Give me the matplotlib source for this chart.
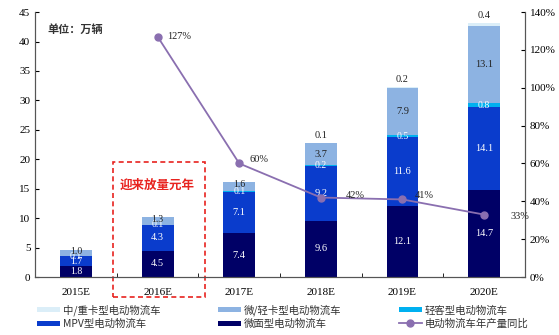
import numpy as np
import matplotlib.pyplot as plt
from matplotlib.patches import Rectangle

plt.rcParams['font.family'] = ['Liberation Serif', 'Noto Sans CJK SC']

years = ['2015E', '2016E', '2017E', '2018E', '2019E', '2020E']
micro_van = [1.8, 4.5, 7.4, 9.6, 12.1, 14.7]
mpv = [1.7, 4.3, 7.1, 9.2, 11.6, 14.1]
light_bus = [0.1, 0.1, 0.1, 0.2, 0.5, 0.8]
light_truck = [1.0, 1.3, 1.6, 3.7, 7.9, 13.1]
heavy_truck = [0, 0, 0, 0.1, 0.2, 0.4]
growth = [None, 127, 60, 42, 41, 33]

series = [
    ('微面型电动物流车', micro_van, '#000066', 'white'),
    ('MPV型电动物流车', mpv, '#0a3ccc', 'white'),
    ('轻客型电动物流车', light_bus, '#00b0f0', 'white'),
    ('微/轻卡型电动物流车', light_truck, '#8db3e2', '#222222'),
    ('中/重卡型电动物流车', heavy_truck, '#dbeef8', '#222222'),
]

fig = plt.figure(figsize=(5.59, 3.35), dpi=100)
ax = fig.add_axes([0.063, 0.173, 0.876, 0.791])
x = np.arange(len(years))
w = 0.39

bottom = np.zeros(len(years))
bars = {}
for name, vals, col, tcol in series:
    vals = np.array(vals, dtype=float)
    b = ax.bar(x, vals, w, bottom=bottom, color=col, label=name)
    bars[name] = b
    for i, v in enumerate(vals):
        if v == 0:
            continue
        if name.startswith('中/重卡'):
            ax.text(x[i], bottom[i] + v + 0.5, f'{v:.1f}', ha='center', va='bottom',
                    fontsize=7.5, color='#222222')
        else:
            # small segments: nudge label a bit so stacked labels overlap less
            yy = bottom[i] + v / 2
            if name.startswith('微/轻卡') and v < 2:
                yy = bottom[i] + v * 0.7
            ax.text(x[i], yy, f'{v:.1f}', ha='center', va='center',
                    fontsize=7 if v < 2 else 7.5, color=tcol)
    bottom += vals

ax.set_xlim(-0.5, 5.5)
ax.set_ylim(0, 45)
ax.set_yticks(range(0, 46, 5))
ax.set_xticks(x)
ax.set_xticklabels(years)
ax.set_xticks(np.arange(-0.5, 6, 1), minor=True)
ax.tick_params(axis='x', which='major', length=0, labelsize=8, pad=8)
ax.tick_params(axis='x', which='minor', direction='in', length=3)
ax.tick_params(axis='y', direction='in', length=3, labelsize=8)
ax.spines['top'].set_visible(False)
for s in ax.spines.values():
    s.set_color('#555555')

ax2 = ax.twinx()
gx = x[1:]
gy = growth[1:]
line, = ax2.plot(gx, gy, color='#8a6fb0', marker='o', markersize=5, linewidth=1.3,
                 label='电动物流车年产量同比')
offsets = [(0.12, 0), (0.12, 2), (0.3, 1), (0.15, 2), (0.32, -1)]
for xi, yi, (dx, dy) in zip(gx, gy, offsets):
    ax2.text(xi + dx, yi + dy, f'{yi}%', fontsize=7.5, va='center', ha='left', color='#222222')
ax2.set_ylim(0, 140)
ax2.set_yticks(range(0, 141, 20))
ax2.set_yticklabels([f'{v}%' for v in range(0, 141, 20)])
ax2.tick_params(axis='y', direction='in', length=3, labelsize=8)
ax2.spines['top'].set_visible(False)
for s in ax2.spines.values():
    s.set_color('#555555')

ax.text(0.025, 0.96, '单位：万辆', transform=ax.transAxes, fontsize=8,
        family='Noto Sans CJK SC', fontweight='bold', color='#333333', va='top')

rect = Rectangle((0.45, -3.4), 1.13, 22.9, fill=False, edgecolor='#e8231f',
                 linestyle=(0, (3, 2)), linewidth=1.2, clip_on=False)
ax.add_patch(rect)
ax.text(1.0, 15.6, '迎来放量元年', fontsize=9, family='Noto Sans CJK SC',
        fontweight='bold', color='#e8231f', ha='center', va='center')

handles = [bars['中/重卡型电动物流车'], bars['MPV型电动物流车'],
           bars['微/轻卡型电动物流车'], bars['微面型电动物流车'],
           bars['轻客型电动物流车'], line]
labels = ['中/重卡型电动物流车', 'MPV型电动物流车', '微/轻卡型电动物流车',
          '微面型电动物流车', '轻客型电动物流车', '电动物流车年产量同比']
fig.legend(handles, labels, loc='lower left', bbox_to_anchor=(0.05, -0.01), ncol=3,
           frameon=False, prop={'family': 'Noto Sans CJK SC', 'size': 7.5},
           handlelength=2.2, handleheight=0.35, columnspacing=5.5, labelspacing=0.25,
           handletextpad=0.3, labelcolor='#333333')

fig.savefig('out.png', dpi=100)
